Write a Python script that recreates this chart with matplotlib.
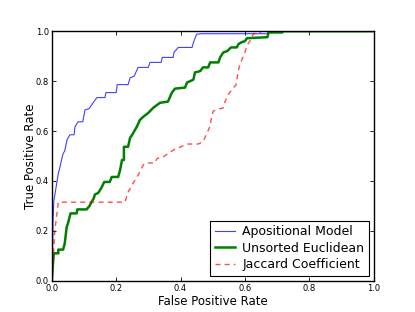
from matplotlib import pyplot as plt

# ROC points
apos_fpr = [0, 0.002, 0.004, 0.006, 0.01, 0.015, 0.02, 0.025, 0.031, 0.035, 0.04, 0.047, 0.056, 0.069,
            0.072, 0.081, 0.096, 0.103, 0.116, 0.128, 0.14, 0.165, 0.168, 0.2, 0.203, 0.237, 0.243, 0.256,
            0.268, 0.3, 0.305, 0.34, 0.343, 0.377, 0.38, 0.393, 0.436, 0.44, 0.45, 0.467, 0.477, 0.67,
            0.672, 1.0]
apos_tpr = [0, 0.12, 0.25, 0.32, 0.35, 0.39, 0.43, 0.455, 0.49, 0.51, 0.52, 0.565, 0.585, 0.585,
            0.617, 0.637, 0.637, 0.685, 0.69, 0.713, 0.734, 0.734, 0.754, 0.754, 0.786, 0.786, 0.813, 0.82,
            0.855, 0.855, 0.875, 0.875, 0.895, 0.895, 0.916, 0.935, 0.935, 0.955, 0.988, 0.99, 0.99, 0.99,
            1.0, 1.0]

eucl_fpr = [0, 0.003, 0.006, 0.02, 0.02, 0.035, 0.04, 0.046, 0.05, 0.058, 0.077, 0.079, 0.108, 0.117,
            0.123, 0.13, 0.134, 0.144, 0.153, 0.163, 0.18, 0.186, 0.206, 0.212, 0.218, 0.224, 0.224, 0.237,
            0.243, 0.252, 0.264, 0.274, 0.284, 0.3, 0.315, 0.336, 0.361, 0.373, 0.383, 0.414, 0.42, 0.44,
            0.445, 0.461, 0.47, 0.486, 0.492, 0.518, 0.523, 0.533, 0.545, 0.557, 0.575, 0.58, 0.59, 0.6,
            0.607, 0.67, 0.674, 0.716, 0.72, 1.0]
eucl_tpr = [0, 0.06, 0.11, 0.11, 0.125, 0.125, 0.15, 0.215, 0.23, 0.27, 0.27, 0.286, 0.286, 0.30,
            0.315, 0.33, 0.346, 0.352, 0.37, 0.396, 0.396, 0.416, 0.416, 0.443, 0.484, 0.484, 0.537, 0.537,
            0.572, 0.59, 0.617, 0.645, 0.657, 0.673, 0.693, 0.713, 0.718, 0.754, 0.77, 0.774, 0.794, 0.806,
            0.835, 0.84, 0.855, 0.855, 0.875, 0.875, 0.895, 0.915, 0.92, 0.935, 0.935, 0.948, 0.956, 0.96,
            0.972, 0.976, 0.995, 0.995, 1.0, 1.0]

jacc_fpr = [0, 0.005, 0.009, 0.02, 0.227, 0.237, 0.252, 0.268, 0.284, 0.292, 0.32, 0.327, 0.346, 0.368,
            0.383, 0.4, 0.42, 0.455, 0.47, 0.48, 0.492, 0.497, 0.502, 0.514, 0.533, 0.539, 0.548, 0.56,
            0.573, 0.576, 0.582, 0.59, 0.6, 0.607, 0.617, 0.627, 0.648, 0.65, 1.0]
jacc_tpr = [0, 0.11, 0.2, 0.315, 0.315, 0.355, 0.39, 0.423, 0.464, 0.472, 0.472, 0.49, 0.496, 0.516,
            0.528, 0.536, 0.548, 0.548, 0.557, 0.585, 0.62, 0.66, 0.68, 0.686, 0.693, 0.72, 0.746, 0.766,
            0.786, 0.813, 0.855, 0.883, 0.915, 0.943, 0.964, 0.99, 0.995, 1.0, 1.0]

labels = ["Apositional Model", "Unsorted Euclidean", "Jaccard Coefficient"]

fig = plt.figure(figsize=(4.15, 3.12), dpi=100, facecolor='white')
ax = fig.add_axes([0.125, 0.1, 0.775, 0.8])

ax.plot(apos_fpr, apos_tpr, color='#0000ff', alpha=0.75, lw=0.8, label=labels[0])
ax.plot(eucl_fpr, eucl_tpr, color='#008000', lw=1.8, label=labels[1])
ax.plot(jacc_fpr, jacc_tpr, color='#ff0000', alpha=0.7, lw=1.0, dashes=(3.6, 3), label=labels[2])

ax.set_xlim(0, 1)
ax.set_ylim(0, 1)
ax.set_xticks([0, 0.2, 0.4, 0.6, 0.8, 1.0])
ax.set_yticks([0, 0.2, 0.4, 0.6, 0.8, 1.0])
ax.tick_params(direction='in', length=3, width=0.6, labelsize=6, top=True, right=True, pad=2)
for s in ax.spines.values():
    s.set_linewidth(1.0)

ax.set_xlabel("False Positive Rate", fontsize=8.5, labelpad=2)
ax.set_ylabel("True Positive Rate", fontsize=8.5, labelpad=-0.5)

leg = ax.legend(loc='lower right', fontsize=9, fancybox=False, handlelength=1.6, handletextpad=0.6,
                labelspacing=0.3, borderpad=0.35, borderaxespad=0.4, framealpha=1)
leg.get_frame().set_edgecolor('black')
leg.get_frame().set_linewidth(0.8)

fig.savefig("out.png", dpi=100, facecolor='white')
